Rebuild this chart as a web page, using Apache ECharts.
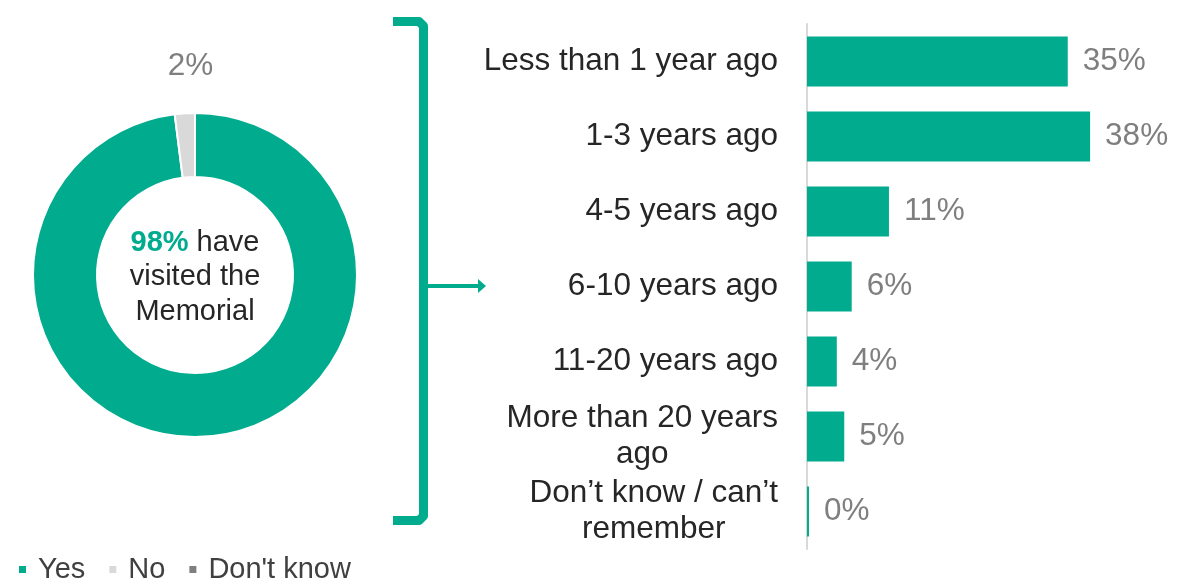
<!DOCTYPE html>
<html>
<head>
<meta charset="utf-8">
<script src="https://cdn.jsdelivr.net/npm/echarts@6/dist/echarts.min.js"></script>
<style>
  html, body { margin: 0; padding: 0; background: #fff; }
  #chart { width: 1196px; height: 579px; }
</style>
</head>
<body>
<div id="chart"></div>
<script>
// Visited the Memorial (donut)
const visitLabels = ['Yes', 'No', "Don't know"];
const visitValues = [98, 2, 0];
const visitColors = ['#00ab8e', '#d9d9d9', '#7f7f7f'];

// When last visited (bars)
const whenCategories = [
  'Less than 1 year ago',
  '1-3 years ago',
  '4-5 years ago',
  '6-10 years ago',
  '11-20 years ago',
  'More than 20 years\nago',
  'Don\u2019t know / can\u2019t\nremember'
];
const whenValues = [35, 38, 11, 6, 4, 5, 0];

const GREEN = '#00ab8e';
const FONT = '"Liberation Sans", Arial, sans-serif';

const chart = echarts.init(document.getElementById('chart'), null, { renderer: 'canvas' });

chart.setOption({
  animation: false,
  textStyle: { fontFamily: FONT },
  legend: {
    data: visitLabels,
    left: 12,
    top: 550,
    icon: 'rect',
    itemWidth: 9,
    itemHeight: 9,
    itemGap: 22,
    textStyle: { fontFamily: FONT, fontSize: 29, color: '#404040', padding: [0, 0, 0, 6] }
  },
  grid: { left: 807, right: 91, top: 24, bottom: 30 },
  xAxis: {
    type: 'value', min: 0, max: 40,
    show: false
  },
  yAxis: {
    type: 'category',
    data: whenCategories,
    inverse: true,
    axisTick: { show: false },
    axisLine: { lineStyle: { color: '#d9d9d9', width: 2 } },
    axisLabel: {
      margin: 29,
      fontFamily: FONT,
      fontSize: 31.5,
      color: '#262626',
      lineHeight: 36,
      align: 'right',
      // wrapped labels: lines centred on each other, block right-aligned to the axis
      formatter: function (v) {
        if (v.indexOf('\n') < 0) return v;
        return v.split('\n').map(function (l) { return '{c|' + l + '}'; }).join('\n');
      },
      rich: {
        c: { align: 'center', fontFamily: FONT, fontSize: 31.5, color: '#262626', lineHeight: 36 }
      }
    }
  },
  series: [
    {
      type: 'pie',
      name: 'Visited',
      center: [195, 275],
      radius: [98, 162],
      startAngle: 90,
      avoidLabelOverlap: false,
      itemStyle: { borderColor: '#fff', borderWidth: 2 },
      data: visitLabels.map((name, i) => ({
        name,
        value: visitValues[i],
        itemStyle: { color: visitColors[i] },
        label: { show: name === 'No' }
      })),
      label: {
        position: 'outside',
        formatter: '{c}%',
        fontFamily: FONT,
        fontSize: 31.5,
        color: '#7f7f7f'
      },
      labelLine: { show: false, length: 34, length2: 0 },
      labelLayout: function (p) {
        return { align: 'center', verticalAlign: 'middle', dx: p.labelRect.width / 2 - 10, dy: -13 };
      },
      emphasis: { disabled: true }
    },
    {
      type: 'bar',
      name: 'When',
      data: whenValues,
      barWidth: 50,
      barMinHeight: 2,
      itemStyle: { color: GREEN },
      label: {
        show: true,
        position: 'right',
        distance: 15,
        formatter: '{c}%',
        fontFamily: FONT,
        fontSize: 31.5,
        color: '#7f7f7f'
      },
      emphasis: { disabled: true }
    }
  ],
  graphic: [
    {
      type: 'text',
      x: 195,
      y: 277,
      style: {
        text: '{g|98%} have\nvisited the\nMemorial',
        align: 'center',
        verticalAlign: 'middle',
        font: '29px ' + FONT,
        fill: '#262626',
        lineHeight: 34.5,
        rich: {
          g: { fontFamily: FONT, fontSize: 29, fontWeight: 'bold', fill: GREEN, lineHeight: 34.5 }
        }
      }
    },
    {
      type: 'polyline',
      shape: { points: [[393, 21.5], [419, 21.5], [423.5, 26], [423.5, 516], [419, 520.5], [393, 520.5]] },
      style: { stroke: GREEN, lineWidth: 9, fill: null, lineJoin: 'round' }
    },
    {
      type: 'line',
      shape: { x1: 426, y1: 286, x2: 480, y2: 286 },
      style: { stroke: GREEN, lineWidth: 4 }
    },
    {
      type: 'polygon',
      shape: { points: [[478, 279], [486, 286], [478, 293]] },
      style: { fill: GREEN }
    }
  ]
});
</script>
</body>
</html>
